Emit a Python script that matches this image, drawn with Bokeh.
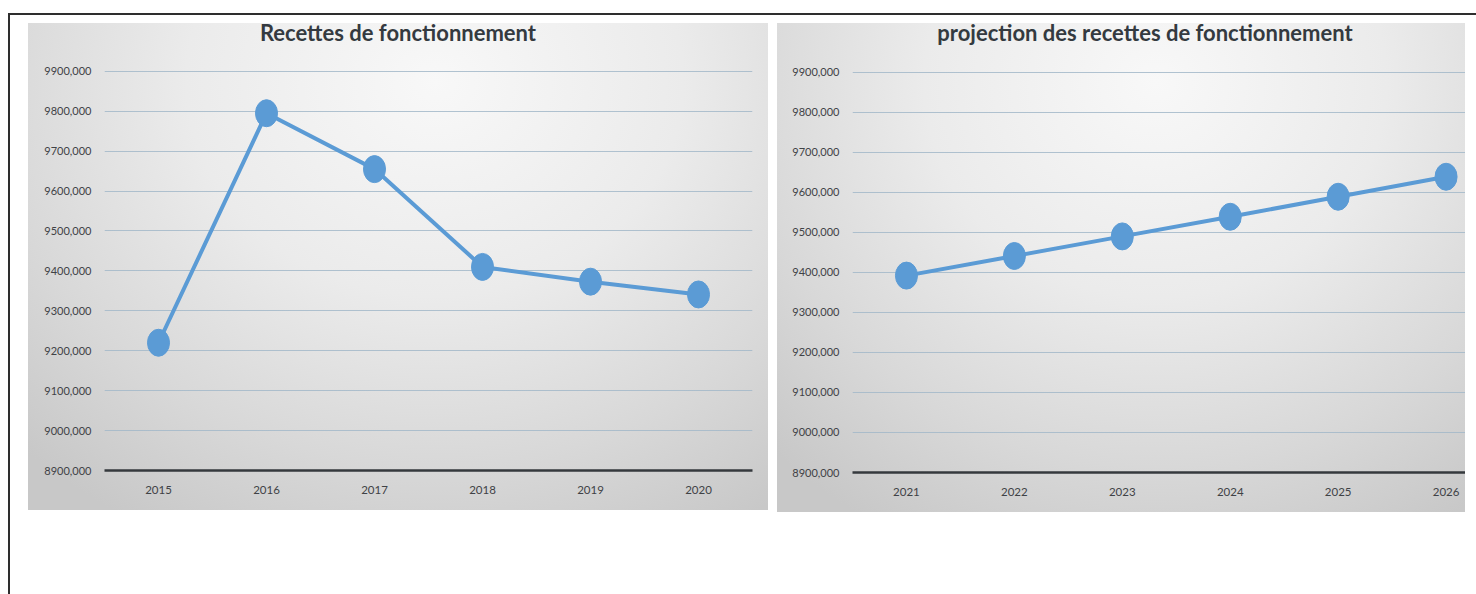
from bokeh.plotting import figure
from bokeh.layouts import row, column
from bokeh.models import FixedTicker, Range1d, Div
from bokeh.embed import file_html
from bokeh.resources import INLINE

# ---------------- data ----------------
years_hist = [2015, 2016, 2017, 2018, 2019, 2020]
recettes_hist = [9220000, 9795000, 9655000, 9410000, 9373000, 9341000]

years_proj = [2021, 2022, 2023, 2024, 2025, 2026]
recettes_proj = [9392000, 9441000, 9490000, 9539000, 9589000, 9639000]

y_ticks = [8900000, 9000000, 9100000, 9200000, 9300000, 9400000,
           9500000, 9600000, 9700000, 9800000, 9900000]
y_tick_labels = ["8900,000", "9000,000", "9100,000", "9200,000", "9300,000", "9400,000",
                 "9500,000", "9600,000", "9700,000", "9800,000", "9900,000"]

title_hist = "Recettes de fonctionnement"
title_proj = "projection des recettes de fonctionnement"

# ---------------- style ----------------
FONT = "Lato"
LINE_COLOR = "#5b9bd5"
TEXT_COLOR = "#3f4246"
GRID_COLOR = "#a3b9c9"
BG = ("radial-gradient(ellipse 80% 105% at 55% 12%, #f8f8f8 0%, #ebebeb 42%, "
      "#d8d8d8 75%, #c8c8c8 100%)")


def make_chart(xs, ys, title, width, height, x_range, top, left, right, margin, shift):
    head = Div(text=(f'<div style="font-family:Lato;font-weight:bold;font-size:22px;'
                     f'line-height:20px;color:#343a40;text-align:center;box-sizing:border-box;'
                     f'width:{width}px;padding-left:{shift}px;white-space:nowrap">'
                     f'{title}</div>'),
               width=width, height=37, margin=0)

    p = figure(width=width, height=height, output_backend="svg", toolbar_location=None,
               x_range=Range1d(*x_range), y_range=Range1d(y_ticks[0], y_ticks[-1] + 2000),
               min_border_top=top, min_border_bottom=40, min_border_left=left,
               min_border_right=right, margin=0)
    p.background_fill_alpha = 0
    p.border_fill_alpha = 0
    p.outline_line_color = None

    # axes
    p.yaxis.ticker = FixedTicker(ticks=y_ticks)
    p.yaxis.major_label_overrides = {v: s for v, s in zip(y_ticks, y_tick_labels)}
    p.yaxis.axis_line_color = None
    p.yaxis.major_tick_line_color = None
    p.yaxis.major_tick_out = 0
    p.yaxis.minor_tick_line_color = None
    p.yaxis.minor_tick_out = 0
    p.yaxis.major_label_standoff = 13
    p.yaxis.major_label_text_font = FONT
    p.yaxis.major_label_text_font_size = "11px"
    p.yaxis.major_label_text_color = TEXT_COLOR

    p.xaxis.ticker = FixedTicker(ticks=xs)
    p.xaxis.axis_line_color = "#35393d"
    p.xaxis.axis_line_width = 2.5
    p.xaxis.major_tick_line_color = None
    p.xaxis.major_tick_out = 0
    p.xaxis.minor_tick_line_color = None
    p.xaxis.minor_tick_out = 0
    p.xaxis.major_label_standoff = 15
    p.xaxis.major_label_text_font = FONT
    p.xaxis.major_label_text_font_size = "11.5px"
    p.xaxis.major_label_text_color = TEXT_COLOR

    p.xgrid.grid_line_color = None
    p.ygrid.ticker = FixedTicker(ticks=y_ticks)
    p.ygrid.grid_line_color = GRID_COLOR
    p.ygrid.grid_line_width = 1
    p.ygrid.grid_line_alpha = 0.85

    p.line(xs, ys, line_color=LINE_COLOR, line_width=4)
    p.ellipse(xs, ys, width=22, height=27, width_units="screen", height_units="screen",
              fill_color=LINE_COLOR, line_color=LINE_COLOR)

    return column(head, p, width=width, height=height + 37, margin=margin,
                  styles={"background": BG})


c1 = make_chart(years_hist, recettes_hist, title_hist, 740, 450, (2014.5, 2020.5),
                10, 76, 16, (8, 0, 0, 18), 0)
c2 = make_chart(years_proj, recettes_proj, title_proj, 688, 452, (2020.5, 2026.18),
                11, 75, 0, (8, 0, 0, 9), 48)

layout = row(c1, c2, width=1468, height=581, margin=(13, 0, 0, 8),
             styles={"border-top": "2px solid #2e2e2e", "border-left": "2px solid #2e2e2e",
                     "box-sizing": "border-box", "background": "white"})

open("out.html", "w").write(file_html(layout, INLINE))
